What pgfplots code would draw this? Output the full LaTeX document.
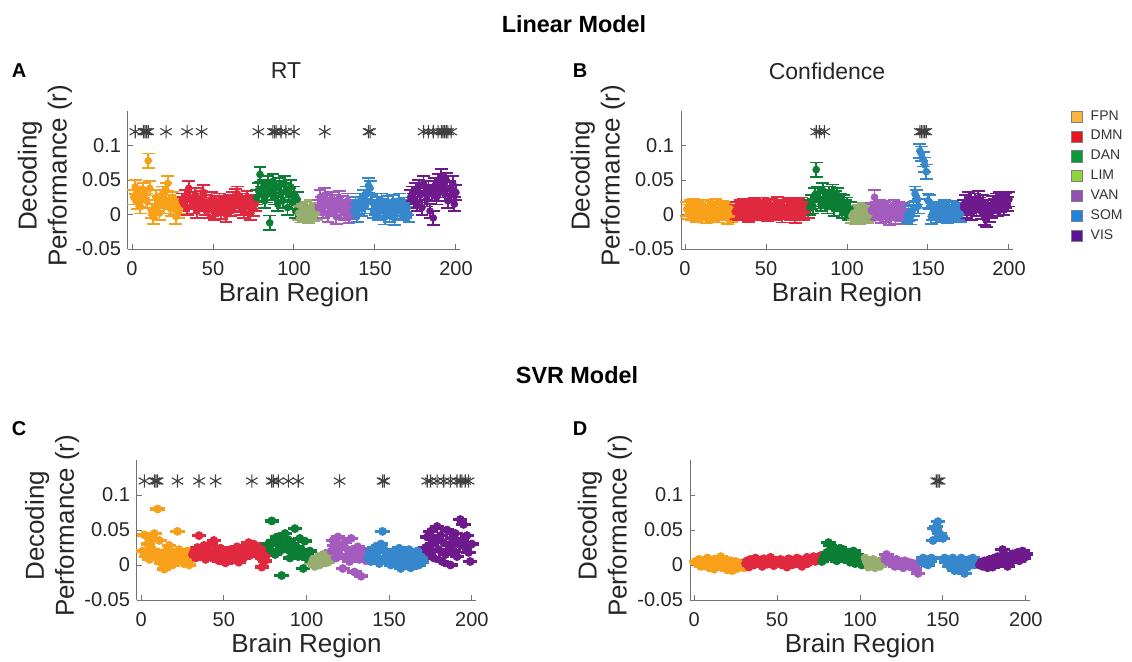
\documentclass[border=0pt]{standalone}
\usepackage{fontspec}
\setmainfont{Liberation Sans}
\usepackage{pgfplots}
\usepackage{pgfplotstable}
\pgfplotsset{compat=1.18}

% point colours
\definecolor{cFPN}{HTML}{F9A01B}
\definecolor{cDMN}{HTML}{E0283E}
\definecolor{cDAN}{HTML}{0B7D35}
\definecolor{cLIM}{HTML}{98AE6E}
\definecolor{cVAN}{HTML}{A35CBE}
\definecolor{cSOM}{HTML}{3787CD}
\definecolor{cVIS}{HTML}{6E198C}
% legend colours
\definecolor{lFPN}{HTML}{FBB440}
\definecolor{lDMN}{HTML}{E8141E}
\definecolor{lDAN}{HTML}{0A9A3C}
\definecolor{lLIM}{HTML}{8ED43A}
\definecolor{lVAN}{HTML}{9450B4}
\definecolor{lSOM}{HTML}{1E82DC}
\definecolor{lVIS}{HTML}{5A1496}

% Linear model, RT
\pgfplotstableread[row sep=\\]{
x y\\
1 0.025\\ 2 0.040\\ 3 0.018\\ 4 0.030\\ 5 0.012\\ 6 0.022\\ 7 0.035\\ 8 0.028\\ 9 0.020\\ 10 0.078\\
11 0.038\\ 12 0.005\\ 13 -0.003\\ 14 0.010\\ 15 0.025\\ 16 0.015\\ 17 0.002\\ 18 0.020\\ 19 0.030\\ 20 0.012\\
21 0.035\\ 22 0.045\\ 23 0.018\\ 24 0.008\\ 25 0.022\\ 26 0.010\\ 27 -0.003\\ 28 0.015\\ 29 0.005\\ 30 0.012\\
31 0.020\\ 32 0.015\\ 33 0.025\\ 34 0.010\\ 35 0.038\\ 36 0.022\\ 37 0.018\\ 38 0.012\\ 39 0.028\\ 40 0.005\\
41 0.020\\ 42 0.015\\ 43 0.024\\ 44 0.032\\ 45 0.010\\ 46 0.018\\ 47 0.006\\ 48 0.014\\ 49 0.022\\ 50 0.008\\
51 0.003\\ 52 0.016\\ 53 0.012\\ 54 0.020\\ 55 0.004\\ 56 0.010\\ 57 0.015\\ 58 0.000\\ 59 0.012\\ 60 0.018\\
61 0.008\\ 62 0.022\\ 63 0.014\\ 64 0.026\\ 65 0.030\\ 66 0.016\\ 67 0.010\\ 68 0.020\\ 69 0.005\\ 70 0.014\\
71 0.024\\ 72 0.012\\ 73 0.002\\ 74 0.018\\ 75 0.008\\ 76 0.015\\
77 0.025\\ 78 0.035\\ 79 0.058\\ 80 0.030\\ 81 0.040\\ 82 0.020\\ 83 0.028\\ 84 0.045\\ 85 -0.012\\ 86 0.032\\
87 0.048\\ 88 0.025\\ 89 0.038\\ 90 0.015\\ 91 0.042\\ 92 0.030\\ 93 0.020\\ 94 0.045\\ 95 0.035\\ 96 0.010\\
97 0.028\\ 98 0.040\\ 99 0.018\\ 100 0.030\\ 101 0.005\\ 102 0.022\\
103 0.002\\ 104 -0.001\\ 105 0.005\\ 106 0.000\\ 107 0.008\\ 108 0.003\\ 109 -0.002\\ 110 0.010\\ 111 0.004\\ 112 0.001\\
113 0.006\\ 114 0.002\\
115 0.010\\ 116 0.025\\ 117 0.015\\ 118 0.005\\ 119 0.028\\ 120 0.020\\ 121 0.000\\ 122 0.012\\ 123 0.022\\ 124 0.008\\
125 0.018\\ 126 -0.003\\ 127 0.014\\ 128 0.024\\ 129 0.006\\ 130 0.016\\ 131 0.002\\ 132 0.010\\ 133 0.020\\ 134 -0.002\\
135 0.008\\ 136 0.004\\
137 0.005\\ 138 0.015\\ 139 0.000\\ 140 0.010\\ 141 0.020\\ 142 0.008\\ 143 0.025\\ 144 0.012\\ 145 0.030\\ 146 0.042\\
147 0.038\\ 148 0.018\\ 149 0.005\\ 150 0.010\\ 151 0.015\\ 152 0.002\\ 153 0.008\\ 154 0.020\\ 155 0.012\\ 156 -0.004\\
157 0.006\\ 158 0.016\\ 159 0.000\\ 160 0.010\\ 161 0.018\\ 162 -0.005\\ 163 0.004\\ 164 0.012\\ 165 0.020\\ 166 0.008\\
167 0.002\\ 168 0.014\\ 169 0.006\\ 170 0.010\\ 171 0.000\\
172 0.025\\ 173 0.030\\ 174 0.020\\ 175 0.035\\ 176 0.015\\ 177 0.040\\ 178 0.028\\ 179 0.010\\ 180 0.045\\ 181 0.032\\
182 0.022\\ 183 0.038\\ 184 0.005\\ 185 0.030\\ 186 -0.005\\ 187 0.042\\ 188 0.025\\ 189 0.048\\ 190 0.035\\ 191 0.055\\
192 0.040\\ 193 0.030\\ 194 0.050\\ 195 0.020\\ 196 0.038\\ 197 0.028\\ 198 0.045\\ 199 0.015\\ 200 0.032\\
}\dataA

% Linear model, confidence
\pgfplotstableread[row sep=\\]{
x y\\
1 0.008\\ 2 0.004\\ 3 0.010\\ 4 0.002\\ 5 0.012\\ 6 0.006\\ 7 0.000\\ 8 0.009\\ 9 0.005\\ 10 0.011\\
11 0.003\\ 12 0.007\\ 13 -0.002\\ 14 0.010\\ 15 0.004\\ 16 0.008\\ 17 0.001\\ 18 0.006\\ 19 0.012\\ 20 0.003\\
21 -0.001\\ 22 0.007\\ 23 0.009\\ 24 0.002\\ 25 0.005\\ 26 -0.003\\ 27 0.004\\ 28 0.008\\ 29 0.000\\ 30 0.003\\
31 0.004\\ 32 0.008\\ 33 0.002\\ 34 0.010\\ 35 0.006\\ 36 0.012\\ 37 0.003\\ 38 0.009\\ 39 0.000\\ 40 0.007\\
41 0.011\\ 42 0.005\\ 43 0.013\\ 44 0.002\\ 45 0.008\\ 46 0.006\\ 47 0.010\\ 48 0.014\\ 49 0.004\\ 50 0.009\\
51 0.001\\ 52 0.007\\ 53 0.012\\ 54 0.005\\ 55 0.010\\ 56 0.003\\ 57 0.015\\ 58 0.006\\ 59 0.008\\ 60 -0.001\\
61 0.011\\ 62 0.004\\ 63 0.009\\ 64 0.013\\ 65 0.002\\ 66 0.007\\ 67 0.010\\ 68 -0.002\\ 69 0.005\\ 70 0.012\\
71 0.008\\ 72 0.014\\ 73 0.003\\ 74 0.009\\ 75 0.011\\ 76 0.006\\
77 0.010\\ 78 0.018\\ 79 0.012\\ 80 0.028\\ 81 0.065\\ 82 0.030\\ 83 0.022\\ 84 0.015\\ 85 0.035\\ 86 0.020\\
87 0.025\\ 88 0.012\\ 89 0.030\\ 90 0.018\\ 91 0.033\\ 92 0.008\\ 93 0.024\\ 94 0.028\\ 95 0.015\\ 96 0.020\\
97 0.005\\ 98 0.018\\ 99 0.010\\ 100 0.014\\ 101 0.002\\ 102 0.008\\
103 -0.002\\ 104 0.002\\ 105 -0.004\\ 106 0.000\\ 107 0.004\\ 108 -0.003\\ 109 0.001\\ 110 0.006\\ 111 -0.001\\ 112 0.003\\
113 -0.002\\ 114 0.001\\
115 0.006\\ 116 0.004\\ 117 0.025\\ 118 0.008\\ 119 0.002\\ 120 0.010\\ 121 -0.002\\ 122 0.006\\ 123 0.009\\ 124 0.000\\
125 0.004\\ 126 -0.005\\ 127 0.007\\ 128 0.003\\ 129 0.010\\ 130 -0.003\\ 131 0.005\\ 132 0.008\\ 133 0.001\\ 134 -0.004\\
135 0.006\\ 136 0.002\\
137 -0.002\\ 138 0.001\\ 139 -0.004\\ 140 0.003\\ 141 0.008\\ 142 0.030\\ 143 0.025\\ 144 0.012\\ 145 0.092\\ 146 0.088\\
147 0.080\\ 148 0.072\\ 149 0.062\\ 150 0.020\\ 151 0.018\\ 152 -0.003\\ 153 0.002\\ 154 0.006\\ 155 -0.001\\ 156 0.004\\
157 0.008\\ 158 0.000\\ 159 0.005\\ 160 0.010\\ 161 0.003\\ 162 -0.002\\ 163 0.007\\ 164 0.001\\ 165 0.009\\ 166 0.004\\
167 -0.001\\ 168 0.006\\ 169 0.002\\ 170 0.000\\ 171 0.004\\
172 0.010\\ 173 0.018\\ 174 0.005\\ 175 0.022\\ 176 0.012\\ 177 0.002\\ 178 0.015\\ 179 0.020\\ 180 0.008\\ 181 0.024\\
182 0.014\\ 183 0.004\\ 184 0.018\\ 185 -0.005\\ 186 -0.008\\ 187 0.010\\ 188 0.000\\ 189 0.006\\ 190 0.016\\ 191 0.012\\
192 0.020\\ 193 0.008\\ 194 0.022\\ 195 0.014\\ 196 0.018\\ 197 0.010\\ 198 0.020\\ 199 0.015\\ 200 0.022\\
}\dataB

% SVR model, RT
\pgfplotstableread[row sep=\\]{
x y\\
1 0.020\\ 2 0.043\\ 3 0.012\\ 4 0.030\\ 5 0.008\\ 6 0.038\\ 7 0.022\\ 8 0.045\\ 9 0.015\\ 10 0.080\\
11 0.035\\ 12 0.003\\ 13 0.010\\ 14 -0.006\\ 15 0.020\\ 16 0.005\\ 17 0.028\\ 18 0.012\\ 19 0.000\\ 20 0.018\\
21 0.010\\ 22 0.048\\ 23 0.022\\ 24 0.006\\ 25 0.015\\ 26 0.002\\ 27 0.010\\ 28 0.020\\ 29 0.000\\ 30 0.008\\
31 0.015\\ 32 0.020\\ 33 0.010\\ 34 0.025\\ 35 0.042\\ 36 0.018\\ 37 0.012\\ 38 0.028\\ 39 0.008\\ 40 0.022\\
41 0.016\\ 42 0.030\\ 43 0.010\\ 44 0.035\\ 45 0.014\\ 46 0.020\\ 47 0.006\\ 48 0.024\\ 49 0.012\\ 50 0.018\\
51 0.003\\ 52 0.015\\ 53 0.010\\ 54 0.022\\ 55 0.008\\ 56 0.016\\ 57 0.012\\ 58 0.026\\ 59 0.004\\ 60 0.014\\
61 0.020\\ 62 0.010\\ 63 0.028\\ 64 0.018\\ 65 0.032\\ 66 0.024\\ 67 0.015\\ 68 0.030\\ 69 0.020\\ 70 0.026\\
71 0.012\\ 72 0.018\\ 73 -0.003\\ 74 0.022\\ 75 0.006\\ 76 0.014\\
77 0.030\\ 78 0.022\\ 79 0.063\\ 80 0.035\\ 81 0.015\\ 82 0.040\\ 83 0.028\\ 84 0.020\\ 85 -0.015\\ 86 0.032\\
87 0.045\\ 88 0.024\\ 89 0.036\\ 90 0.010\\ 91 0.030\\ 92 0.018\\ 93 0.052\\ 94 0.026\\ 95 0.012\\ 96 0.038\\
97 0.022\\ 98 -0.005\\ 99 0.034\\ 100 0.015\\ 101 0.008\\ 102 0.020\\
103 0.002\\ 104 0.008\\ 105 -0.002\\ 106 0.005\\ 107 0.012\\ 108 0.000\\ 109 0.006\\ 110 0.015\\ 111 0.003\\ 112 0.010\\
113 0.004\\ 114 0.018\\
115 0.020\\ 116 0.035\\ 117 0.028\\ 118 0.010\\ 119 0.040\\ 120 0.015\\ 121 0.025\\ 122 -0.005\\ 123 0.032\\ 124 0.012\\
125 0.022\\ 126 0.005\\ 127 0.038\\ 128 0.018\\ 129 -0.010\\ 130 0.014\\ 131 0.026\\ 132 0.008\\ 133 -0.016\\ 134 0.012\\
135 0.020\\ 136 0.006\\
137 0.010\\ 138 0.020\\ 139 0.005\\ 140 0.015\\ 141 0.025\\ 142 0.008\\ 143 0.018\\ 144 0.002\\ 145 0.030\\ 146 0.048\\
147 0.022\\ 148 0.012\\ 149 0.006\\ 150 0.016\\ 151 0.000\\ 152 0.010\\ 153 0.020\\ 154 0.004\\ 155 0.014\\ 156 0.024\\
157 -0.005\\ 158 0.008\\ 159 0.018\\ 160 0.002\\ 161 0.012\\ 162 0.022\\ 163 -0.004\\ 164 0.010\\ 165 0.016\\ 166 0.006\\
167 0.020\\ 168 0.000\\ 169 0.012\\ 170 0.004\\ 171 0.010\\
172 0.025\\ 173 0.040\\ 174 0.018\\ 175 0.048\\ 176 0.030\\ 177 0.010\\ 178 0.035\\ 179 0.055\\ 180 0.022\\ 181 0.042\\
182 0.005\\ 183 0.032\\ 184 0.015\\ 185 0.050\\ 186 0.028\\ 187 0.000\\ 188 0.038\\ 189 0.020\\ 190 0.045\\ 191 0.012\\
192 0.030\\ 193 0.065\\ 194 0.035\\ 195 0.058\\ 196 0.025\\ 197 0.042\\ 198 0.018\\ 199 0.005\\ 200 0.030\\
}\dataC

% SVR model, confidence
\pgfplotstableread[row sep=\\]{
x y\\
1 0.005\\ 2 0.002\\ 3 0.008\\ 4 -0.002\\ 5 0.006\\ 6 0.000\\ 7 0.004\\ 8 0.010\\ 9 -0.004\\ 10 0.003\\
11 0.007\\ 12 -0.006\\ 13 0.001\\ 14 0.005\\ 15 0.009\\ 16 0.012\\ 17 -0.003\\ 18 0.004\\ 19 0.008\\ 20 -0.007\\
21 0.002\\ 22 0.006\\ 23 -0.008\\ 24 0.000\\ 25 0.005\\ 26 -0.005\\ 27 0.003\\ 28 -0.002\\ 29 0.001\\ 30 -0.004\\
31 0.002\\ 32 0.006\\ 33 -0.003\\ 34 0.008\\ 35 0.004\\ 36 0.000\\ 37 0.010\\ 38 0.005\\ 39 0.002\\ 40 0.007\\
41 -0.002\\ 42 0.009\\ 43 0.004\\ 44 0.001\\ 45 0.006\\ 46 0.011\\ 47 0.003\\ 48 -0.001\\ 49 0.007\\ 50 0.005\\
51 0.002\\ 52 0.008\\ 53 0.000\\ 54 0.006\\ 55 0.004\\ 56 -0.003\\ 57 0.009\\ 58 0.003\\ 59 0.007\\ 60 0.001\\
61 0.005\\ 62 0.010\\ 63 0.002\\ 64 0.008\\ 65 -0.002\\ 66 0.006\\ 67 0.004\\ 68 0.011\\ 69 0.003\\ 70 0.009\\
71 0.007\\ 72 0.012\\ 73 0.005\\ 74 0.010\\ 75 0.008\\ 76 0.013\\
77 0.005\\ 78 0.012\\ 79 0.008\\ 80 0.018\\ 81 0.032\\ 82 0.028\\ 83 0.015\\ 84 0.010\\ 85 0.020\\ 86 0.006\\
87 0.014\\ 88 0.024\\ 89 0.018\\ 90 0.022\\ 91 0.012\\ 92 0.008\\ 93 0.016\\ 94 0.004\\ 95 0.010\\ 96 0.020\\
97 0.002\\ 98 0.014\\ 99 0.006\\ 100 0.012\\ 101 0.000\\ 102 0.008\\
103 0.010\\ 104 0.004\\ 105 -0.003\\ 106 0.006\\ 107 0.000\\ 108 0.008\\ 109 -0.004\\ 110 0.002\\ 111 0.005\\ 112 -0.002\\
113 0.007\\ 114 0.003\\
115 0.008\\ 116 0.015\\ 117 0.004\\ 118 0.010\\ 119 0.002\\ 120 0.006\\ 121 -0.002\\ 122 0.008\\ 123 0.003\\ 124 0.000\\
125 0.005\\ 126 -0.004\\ 127 0.006\\ 128 0.002\\ 129 0.004\\ 130 -0.001\\ 131 0.003\\ 132 0.000\\ 133 -0.006\\ 134 0.002\\
135 -0.012\\ 136 0.004\\
137 0.004\\ 138 0.010\\ 139 0.002\\ 140 0.008\\ 141 0.000\\ 142 0.006\\ 143 0.010\\ 144 0.035\\ 145 0.052\\ 146 0.055\\
147 0.062\\ 148 0.045\\ 149 0.040\\ 150 0.038\\ 151 0.010\\ 152 0.004\\ 153 0.008\\ 154 -0.002\\ 155 0.006\\ 156 0.010\\
157 -0.008\\ 158 0.002\\ 159 0.006\\ 160 -0.005\\ 161 0.010\\ 162 0.003\\ 163 -0.012\\ 164 0.005\\ 165 -0.003\\ 166 0.008\\
167 0.004\\ 168 0.010\\ 169 0.000\\ 170 0.006\\ 171 0.002\\
172 0.000\\ 173 0.004\\ 174 -0.002\\ 175 0.006\\ 176 0.002\\ 177 -0.004\\ 178 0.008\\ 179 0.003\\ 180 -0.003\\ 181 0.010\\
182 0.005\\ 183 0.012\\ 184 0.002\\ 185 0.008\\ 186 0.022\\ 187 0.006\\ 188 0.014\\ 189 -0.002\\ 190 0.010\\ 191 0.004\\
192 0.016\\ 193 0.008\\ 194 0.012\\ 195 0.018\\ 196 0.006\\ 197 0.014\\ 198 0.020\\ 199 0.010\\ 200 0.016\\
}\dataD

% significance markers
\pgfplotstableread[row sep=\\]{
x y\\ 2 0.12\\ 7 0.12\\ 8 0.12\\ 9 0.12\\ 10 0.12\\ 21 0.12\\ 34 0.12\\ 43 0.12\\ 78 0.12\\ 87 0.12\\ 88 0.12\\ 89 0.12\\
92 0.12\\ 95 0.12\\ 100 0.12\\ 119 0.12\\ 146 0.12\\ 147 0.12\\ 180 0.12\\ 183 0.12\\ 186 0.12\\ 189 0.12\\ 191 0.12\\
192 0.12\\ 193 0.12\\ 194 0.12\\ 195 0.12\\ 197 0.12\\
}\starsA
\pgfplotstableread[row sep=\\]{
x y\\ 81 0.12\\ 83 0.12\\ 86 0.12\\ 145 0.12\\ 146 0.12\\ 147 0.12\\ 148 0.12\\ 149 0.12\\
}\starsB
\pgfplotstableread[row sep=\\]{
x y\\ 2 0.12\\ 8 0.12\\ 9 0.12\\ 10 0.12\\ 22 0.12\\ 35 0.12\\ 45 0.12\\ 67 0.12\\ 79 0.12\\ 80 0.12\\ 83 0.12\\ 89 0.12\\
95 0.12\\ 120 0.12\\ 146 0.12\\ 147 0.12\\ 173 0.12\\ 175 0.12\\ 179 0.12\\ 183 0.12\\ 187 0.12\\ 191 0.12\\ 193 0.12\\
194 0.12\\ 196 0.12\\ 198 0.12\\
}\starsC
\pgfplotstableread[row sep=\\]{
x y\\ 146 0.12\\ 147 0.12\\ 148 0.12\\
}\starsD

\def\errval{0.0105}
\def\capsize{3.2pt}

\pgfplotsset{
  brain/.style={
    scale only axis, clip=false,
    xmin=-2.5, xmax=202.5, ymin=-0.05, ymax=0.15,
    axis x line*=bottom, axis y line*=left,
    xtick={0,50,100,150,200},
    ytick={-0.05,0,0.05,0.1}, yticklabels={-0.05,0,0.05,0.1},
    scaled y ticks=false,
    tick align=inside, major tick length=2.5pt,
    axis line style={draw=black!55, line width=0.5pt},
    tick style={draw=black!55, line width=0.5pt},
    tick label style={font=\fontsize{10}{12}\selectfont, text=black!85},
    xticklabel style={yshift=-2.5pt},
    /pgf/number format/assume math mode=true,
    xlabel={Brain Region}, ylabel={Decoding\\Performance (r)},
    every axis x label/.style={at={(axis description cs:0.5,0)}, anchor=north, yshift=-13.5pt,
      font=\fontsize{13}{15}\selectfont, text=black!85},
    every axis y label/.style={at={(axis description cs:-0.25,0.53)}, rotate=90, anchor=center,
      align=center, font=\fontsize{13}{15}\selectfont, text=black!85},
  },
  net/.style n args={3}{#1, only marks, mark=*, mark size=#3, mark options={fill=#1, draw=#1},
    restrict x to domain=#2, forget plot,
    error bars/.cd, y dir=both, y fixed=\errval, error mark=|,
    error bar style={line width=0.9pt, #1},
    error mark options={#1, line width=0.9pt, mark size=\capsize}},
  stars/.style={only marks, mark=asterisk, mark size=3.3pt, black!75, line width=0.55pt, forget plot},
}

\newcommand{\drawnets}[2]{%
  \addplot[net={cFPN}{1:30}{#2}] table {#1};
  \addplot[net={cDMN}{31:76}{#2}] table {#1};
  \addplot[net={cDAN}{77:102}{#2}] table {#1};
  \addplot[net={cLIM}{103:114}{#2}] table {#1};
  \addplot[net={cVAN}{115:136}{#2}] table {#1};
  \addplot[net={cSOM}{137:171}{#2}] table {#1};
  \addplot[net={cVIS}{172:200}{#2}] table {#1};
}

\begin{document}
\begin{tikzpicture}
\path[use as bounding box] (0,0) rectangle (566pt,330.5pt);

\node[font=\bfseries\fontsize{11.7}{13}\selectfont] at (287pt,318.5pt) {Linear Model};
\node[font=\bfseries\fontsize{11.7}{13}\selectfont] at (288.5pt,143pt) {SVR Model};
\node[font=\bfseries\fontsize{10}{12}\selectfont] at (9.5pt,295pt) {A};
\node[font=\bfseries\fontsize{10}{12}\selectfont] at (290pt,295pt) {B};
\node[font=\bfseries\fontsize{10}{12}\selectfont] at (9.5pt,116pt) {C};
\node[font=\bfseries\fontsize{10}{12}\selectfont] at (290pt,116pt) {D};
\node[font=\fontsize{11.5}{13}\selectfont, text=black!85] at (143pt,295pt) {RT};
\node[font=\fontsize{11.5}{13}\selectfont, text=black!85] at (413.5pt,295pt) {Confidence};

% A
\begin{axis}[brain, at={(64pt,206pt)}, anchor=south west, width=166pt, height=69pt]
\drawnets{\dataA}{1.7pt}
\addplot[stars] table {\starsA};
\end{axis}

% B
\begin{axis}[brain, at={(340.5pt,206pt)}, anchor=south west, width=166pt, height=69pt,
  legend style={at={(axis description cs:1.157,1.05)}, anchor=north west, draw=none, fill=none,
    font=\fontsize{7}{8}\selectfont, text=black!80, row sep=1.6pt, legend cell align=left,
    nodes={inner sep=1pt}, /tikz/every odd column/.append style={column sep=3pt}}]
\drawnets{\dataB}{1.7pt}
\addplot[stars] table {\starsB};
\addlegendimage{only marks, mark=square*, mark size=2.8pt, mark options={fill=lFPN, draw=gray, line width=0.5pt}}
\addlegendentry{FPN}
\addlegendimage{only marks, mark=square*, mark size=2.8pt, mark options={fill=lDMN, draw=gray, line width=0.5pt}}
\addlegendentry{DMN}
\addlegendimage{only marks, mark=square*, mark size=2.8pt, mark options={fill=lDAN, draw=gray, line width=0.5pt}}
\addlegendentry{DAN}
\addlegendimage{only marks, mark=square*, mark size=2.8pt, mark options={fill=lLIM, draw=gray, line width=0.5pt}}
\addlegendentry{LIM}
\addlegendimage{only marks, mark=square*, mark size=2.8pt, mark options={fill=lVAN, draw=gray, line width=0.5pt}}
\addlegendentry{VAN}
\addlegendimage{only marks, mark=square*, mark size=2.8pt, mark options={fill=lSOM, draw=gray, line width=0.5pt}}
\addlegendentry{SOM}
\addlegendimage{only marks, mark=square*, mark size=2.8pt, mark options={fill=lVIS, draw=gray, line width=0.5pt}}
\addlegendentry{VIS}
\end{axis}

\def\errval{0.0012}
\def\capsize{3.6pt}
% C
\begin{axis}[brain, at={(68.5pt,30.5pt)}, anchor=south west, width=169.5pt, height=70pt]
\drawnets{\dataC}{2pt}
\addplot[stars] table {\starsC};
\end{axis}

% D
\begin{axis}[brain, at={(345pt,30.5pt)}, anchor=south west, width=170pt, height=70pt]
\drawnets{\dataD}{2pt}
\addplot[stars] table {\starsD};
\end{axis}
\end{tikzpicture}
\end{document}
